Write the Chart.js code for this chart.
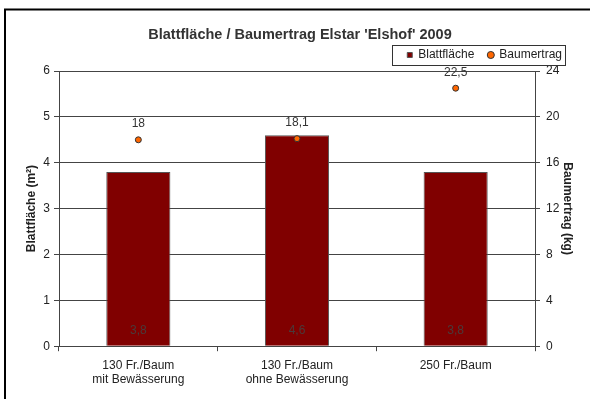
<!DOCTYPE html>
<html>
<head>
<meta charset="utf-8">
<script src="https://cdn.jsdelivr.net/npm/chart.js@4/dist/chart.umd.min.js"></script>
<style>
  html, body { margin: 0; padding: 0; background: #fff; }
  #wrap { width: 590px; height: 399px; }
</style>
</head>
<body>
<div id="wrap"><canvas id="c" width="590" height="399"></canvas></div>
<script>
// Categories (multi-line labels) and the two series
const categories = [
  ['130 Fr./Baum', 'mit Bewässerung'],
  ['130 Fr./Baum', 'ohne Bewässerung'],
  ['250 Fr./Baum']
];
const blattflaeche = [3.8, 4.6, 3.8];   // m²
const baumertrag = [18, 18.1, 22.5];    // kg
const leftTicks = [0, 1, 2, 3, 4, 5, 6];
const rightTicks = [0, 4, 8, 12, 16, 20, 24];

const FONT = "'Liberation Sans', Arial, sans-serif";
const fmt = v => String(v).replace('.', ',');

// Outer frame of the chart sheet
const framePlugin = {
  id: 'frame',
  afterDraw(chart) {
    const ctx = chart.ctx;
    ctx.save();
    ctx.strokeStyle = '#000';
    ctx.lineWidth = 2;
    ctx.strokeRect(5, 9.5, 600, 420);
    ctx.restore();
  }
};

// Pull the legend in from the right edge, and frame it
const legendBoxPlugin = {
  id: 'legendBox',
  afterLayout(chart) {
    const lg = chart.legend;
    if (!lg) return;
    lg.left -= 14;
    lg.right -= 14;
  },
  afterDraw(chart) {
    const hb = chart.legend && chart.legend.legendHitBoxes;
    if (!hb || !hb.length) return;
    const first = hb[0], last = hb[hb.length - 1];
    const x0 = first.left - 15;
    const x1 = last.left + last.width + 3;
    const y0 = first.top - 4;
    const y1 = first.top + first.height + 4;
    const ctx = chart.ctx;
    ctx.save();
    ctx.strokeStyle = '#333';
    ctx.lineWidth = 1;
    ctx.strokeRect(Math.round(x0) + 0.5, Math.round(y0) + 0.5, Math.round(x1 - x0), Math.round(y1 - y0));
    ctx.restore();
  }
};

// Value labels: inside the bars near the base, above the points
const valueLabelPlugin = {
  id: 'valueLabels',
  afterDatasetsDraw(chart) {
    const ctx = chart.ctx;
    ctx.save();
    ctx.font = '12px ' + FONT;
    ctx.textAlign = 'center';
    ctx.textBaseline = 'middle';
    chart.data.datasets.forEach((ds, i) => {
      const meta = chart.getDatasetMeta(i);
      meta.data.forEach((el, j) => {
        const v = ds.data[j];
        if (ds.type === 'bar') {
          ctx.fillStyle = '#4a3a3a';
          ctx.fillText(fmt(v), el.x, el.base - 15);
        } else {
          ctx.fillStyle = '#333';
          ctx.fillText(fmt(v), el.x, el.y - 16);
        }
      });
    });
    ctx.restore();
  }
};

new Chart(document.getElementById('c'), {
  data: {
    labels: categories,
    datasets: [
      {
        type: 'bar',
        label: 'Blattfläche',
        data: blattflaeche,
        yAxisID: 'y',
        backgroundColor: '#800000',
        borderColor: '#555',
        borderWidth: 1,
        barPercentage: 1,
        categoryPercentage: 0.404,
        pointStyle: 'rect',
        order: 2
      },
      {
        type: 'line',
        label: 'Baumertrag',
        data: baumertrag,
        yAxisID: 'y2',
        showLine: false,
        pointRadius: 3,
        pointBorderWidth: 1,
        pointBackgroundColor: '#FF6600',
        pointBorderColor: '#333',
        backgroundColor: '#FF6600',
        borderColor: '#333',
        pointStyle: 'circle',
        order: 1
      }
    ]
  },
  options: {
    responsive: false,
    animation: false,
    devicePixelRatio: 1,
    layout: { padding: { left: 10, right: 0, top: 17, bottom: 5 } },
    plugins: {
      title: {
        display: true,
        text: "Blattfläche / Baumertrag Elstar 'Elshof' 2009",
        color: '#333',
        font: { family: FONT, size: 14.5, weight: 'bold' },
        padding: { top: 9, bottom: -8.4 }
      },
      legend: {
        position: 'top',
        align: 'end',
        labels: {
          usePointStyle: true,
          boxWidth: 5,
          boxHeight: 5,
          padding: 14,
          color: '#222',
          font: { family: FONT, size: 12 },
          sort: (a, b) => a.datasetIndex - b.datasetIndex
        }
      },
      tooltip: { enabled: false }
    },
    scales: {
      x: {
        offset: true,
        grid: { offset: true, drawOnChartArea: false, color: '#444', tickLength: 5 },
        border: { color: '#444', width: 1 },
        ticks: { color: '#222', font: { family: FONT, size: 12 }, maxRotation: 0, padding: 7 }
      },
      y: {
        position: 'left',
        min: 0, max: 6,
        afterBuildTicks(s) { s.ticks = leftTicks.map(v => ({ value: v })); },
        afterFit(s) { s.width = 49; },
        grid: { color: '#444', tickLength: 5 },
        border: { color: '#444', width: 1 },
        ticks: { color: '#222', font: { family: FONT, size: 12 }, padding: 4 },
        title: { display: true, text: 'Blattfläche (m²)', color: '#222', font: { family: FONT, size: 12, weight: 'bold' }, padding: { top: 14, bottom: 0 } }
      },
      y2: {
        position: 'right',
        min: 0, max: 24,
        afterBuildTicks(s) { s.ticks = rightTicks.map(v => ({ value: v })); },
        afterFit(s) { s.width = 55; },
        grid: { drawOnChartArea: false, color: '#444', tickLength: 5 },
        border: { color: '#444', width: 1 },
        ticks: { color: '#222', font: { family: FONT, size: 12 }, padding: 6 },
        title: { display: true, text: 'Baumertrag (kg)', color: '#222', font: { family: FONT, size: 12, weight: 'bold' }, padding: { top: 15, bottom: 0 } }
      }
    }
  },
  plugins: [framePlugin, legendBoxPlugin, valueLabelPlugin]
});
</script>
</body>
</html>
